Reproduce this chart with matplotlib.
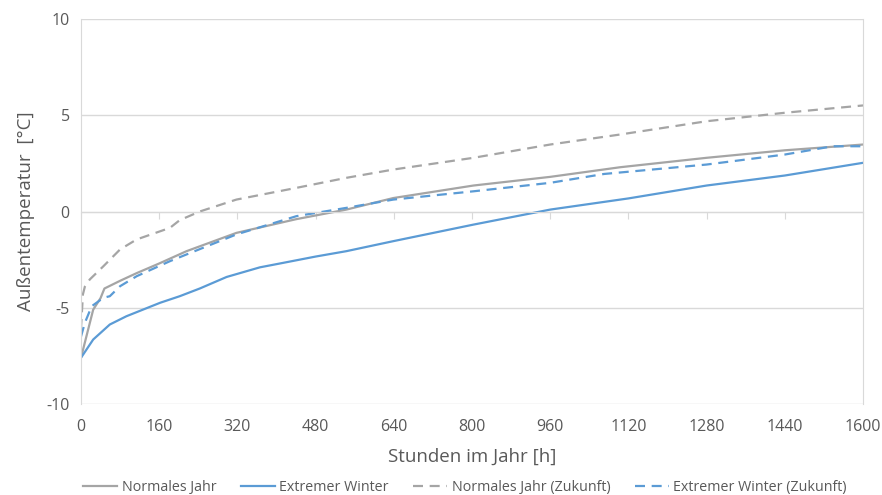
import matplotlib
matplotlib.use("Agg")
import matplotlib.pyplot as plt

plt.rcParams['font.family'] = ['Open Sans', 'DejaVu Sans']
plt.rcParams['axes.unicode_minus'] = False

# sorted hourly outdoor temperatures (coldest hours first)
hours_normal = [0, 12, 25, 40, 48, 80, 114, 160, 216, 318, 440, 543, 639, 803, 960, 1103, 1280, 1440, 1600]
temp_normal = [-7.6, -6.4, -5.1, -4.5, -4.0, -3.6, -3.2, -2.7, -2.06, -1.11, -0.4, 0.1, 0.7, 1.35, 1.8, 2.3, 2.79, 3.18, 3.48]

hours_extreme = [0, 25, 59, 93, 162, 202, 243, 298, 366, 407, 480, 543, 639, 803, 960, 1120, 1280, 1440, 1600]
temp_extreme = [-7.6, -6.65, -5.87, -5.44, -4.74, -4.4, -4.0, -3.4, -2.9, -2.7, -2.34, -2.06, -1.54, -0.68, 0.1, 0.68, 1.35, 1.87, 2.53]

hours_normal_fut = [0, 4, 8, 18, 46, 80, 114, 182, 202, 243, 318, 441, 543, 639, 803, 960, 1103, 1280, 1440, 1600]
temp_normal_fut = [-6.1, -4.3, -3.9, -3.53, -2.84, -1.97, -1.45, -0.85, -0.45, 0.0, 0.62, 1.23, 1.75, 2.18, 2.79, 3.48, 4.0, 4.69, 5.13, 5.51]

hours_extreme_fut = [0, 8, 22, 46, 59, 80, 114, 182, 216, 318, 441, 543, 639, 803, 960, 1070, 1280, 1440, 1538, 1600]
temp_extreme_fut = [-6.5, -5.78, -4.92, -4.48, -4.4, -3.88, -3.36, -2.58, -2.23, -1.19, -0.24, 0.19, 0.62, 1.05, 1.49, 1.95, 2.44, 2.96, 3.39, 3.39]

x_ticks = [0, 160, 320, 480, 640, 800, 960, 1120, 1280, 1440, 1600]
y_ticks = [-10, -5, 0, 5, 10]

grey = '#a5a5a5'
blue = '#5b9bd5'
text_col = '#595959'
grid_col = '#d9d9d9'
dash = (0, (4.5, 3))

fig = plt.figure(figsize=(8.82, 4.95), dpi=100)
ax = fig.add_axes([0.0918, 0.1838, 0.8867, 0.7778])

ax.plot(hours_normal, temp_normal, color=grey, lw=1.6, label='Normales Jahr')
ax.plot(hours_extreme, temp_extreme, color=blue, lw=1.6, label='Extremer Winter')
ax.plot(hours_normal_fut, temp_normal_fut, color=grey, lw=1.6, ls=dash,
        label='Normales Jahr (Zukunft)')
ax.plot(hours_extreme_fut, temp_extreme_fut, color=blue, lw=1.6, ls=dash,
        label='Extremer Winter (Zukunft)')

ax.set_xlim(0, 1600)
ax.set_ylim(-10, 10)
ax.set_yticks(y_ticks)
ax.yaxis.grid(True, color=grid_col, lw=1)
ax.set_axisbelow(True)

for side in ['left', 'right']:
    ax.spines[side].set_color(grid_col)
ax.spines['top'].set_visible(False)

# horizontal axis runs through 0 with ticks, labels stay at the bottom
ax.spines['bottom'].set_position(('data', 0))
ax.spines['bottom'].set_color(grid_col)
ax.set_xticks(x_ticks)
ax.tick_params(axis='x', length=5, color=grid_col, labelbottom=False)
ax.tick_params(axis='y', length=0, labelsize=11.5, labelcolor=text_col, pad=8)

sec = ax.secondary_xaxis('bottom')
sec.set_xticks(x_ticks)
sec.spines['bottom'].set_visible(False)
sec.tick_params(length=0, labelsize=11.5, labelcolor=text_col, pad=11)
sec.set_xlabel('Stunden im Jahr [h]', fontsize=13.5, color=text_col, labelpad=9)

ax.set_ylabel('Außentemperatur  [°C]', fontsize=13.5, color=text_col, labelpad=8)

leg = fig.legend(loc='center', bbox_to_anchor=(0.527, 0.016), ncol=4, frameon=False,
                 fontsize=10.3, handlelength=2.4, columnspacing=1.7, handletextpad=0.3)
for t in leg.get_texts():
    t.set_color(text_col)

fig.savefig('out.png', dpi=100)
